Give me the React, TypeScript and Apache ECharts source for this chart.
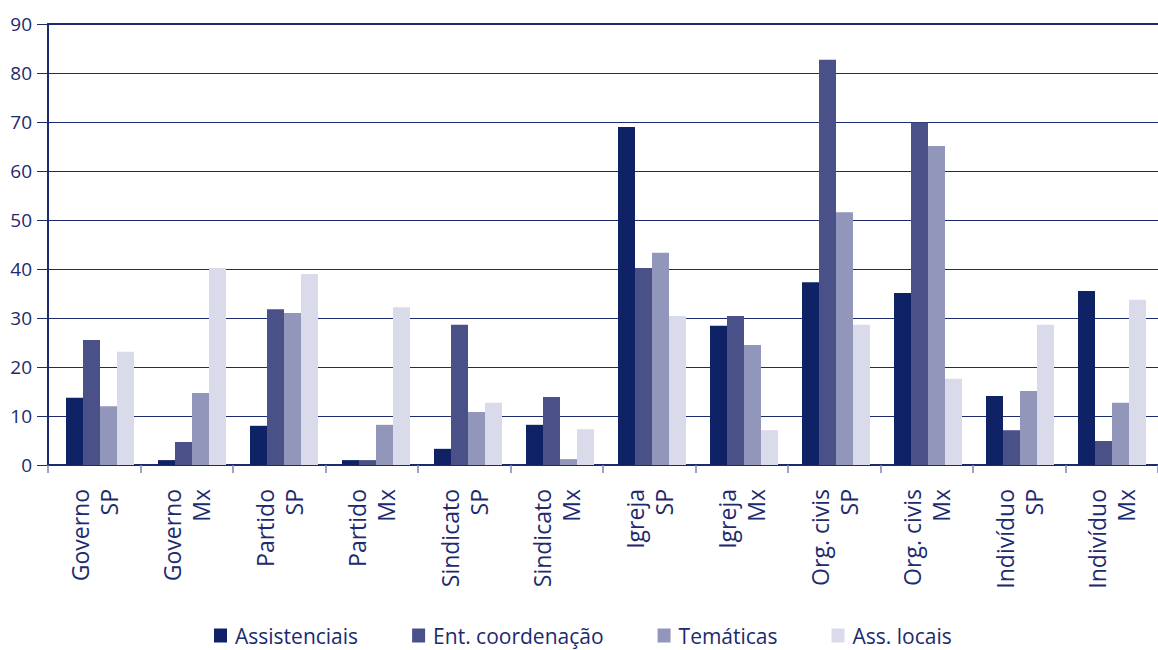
import React, { useEffect, useRef } from "react";
import * as echarts from "echarts";

const categories = [
  "Governo\nSP", "Governo\nMx", "Partido\nSP", "Partido\nMx",
  "Sindicato\nSP", "Sindicato\nMx", "Igreja\nSP", "Igreja\nMx",
  "Org. civis\nSP", "Org. civis\nMx", "Indivíduo\nSP", "Indivíduo\nMx",
];
const seriesNames = ["Assistenciais", "Ent. coordenação", "Temáticas", "Ass. locais"];
const assistenciais = [13.7, 1.0, 8.0, 1.0, 3.3, 8.2, 69.0, 28.4, 37.3, 35.1, 14.1, 35.5];
const entCoordenacao = [25.5, 4.7, 31.8, 1.0, 28.6, 13.9, 40.2, 30.4, 82.7, 69.9, 7.1, 4.9];
const tematicas = [12.0, 14.7, 31.0, 8.2, 10.8, 1.2, 43.3, 24.5, 51.6, 65.1, 15.1, 12.7];
const assLocais = [23.1, 40.2, 39.0, 32.2, 12.7, 7.3, 30.4, 7.1, 28.6, 17.6, 28.6, 33.7];
const colors = ["#0f2266", "#4a5189", "#9396bb", "#d9dbea"];
const yTicks = { min: 0, max: 90, interval: 10 };

const navy = "#1c2a6e";
const font = "'Open Sans', sans-serif";

export default function App() {
  const ref = useRef<HTMLDivElement>(null);
  useEffect(() => {
    if (!ref.current) return;
    const chart = echarts.init(ref.current, null, { renderer: "svg" });
    const values = [assistenciais, entCoordenacao, tematicas, assLocais];
    chart.setOption({
      animation: false,
      textStyle: { fontFamily: font },
      grid: [
        { left: 48, top: 24, width: 1118, height: 441, containLabel: false },
        { left: 54, top: 24, width: 1105, height: 441, containLabel: false },
      ],
      legend: {
        bottom: -1,
        left: 209,
        itemWidth: 13,
        itemHeight: 14,
        itemGap: 54,
        icon: "rect",
        textStyle: { fontSize: 21, color: navy, fontFamily: font, padding: [0, 0, 0, 3] },
        data: seriesNames,
      },
      xAxis: [
        {
          type: "category",
          gridIndex: 0,
          data: categories,
          axisLine: { show: true, lineStyle: { color: navy, width: 2 } },
          axisTick: { show: true, length: 8, lineStyle: { color: "#7c84b2", width: 1.5 } },
          axisLabel: {
            interval: 0,
            rotate: 90,
            fontSize: 23,
            lineHeight: 29,
            color: navy,
            margin: 24,
            fontFamily: font,
          },
        },
        {
          type: "category",
          gridIndex: 0,
          position: "top",
          data: categories,
          axisLine: { show: true, lineStyle: { color: navy, width: 2 } },
          axisTick: { show: false },
          axisLabel: { show: false },
        },
        {
          type: "category",
          gridIndex: 1,
          data: categories,
          show: false,
        },
      ],
      yAxis: [
        {
          type: "value",
          gridIndex: 0,
          min: yTicks.min,
          max: yTicks.max,
          interval: yTicks.interval,
          axisLine: { show: true, lineStyle: { color: navy, width: 2 } },
          axisTick: { show: true, length: 11, lineStyle: { color: navy, width: 1 } },
          axisLabel: { fontSize: 19, color: navy, margin: 16, fontFamily: font },
          splitLine: { show: true, lineStyle: { color: navy, width: 1 } },
        },
        {
          type: "value",
          gridIndex: 1,
          min: yTicks.min,
          max: yTicks.max,
          interval: yTicks.interval,
          show: false,
          splitLine: { show: false },
        },
      ],
      series: seriesNames.map((name, i) => ({
        name,
        type: "bar",
        xAxisIndex: 2,
        yAxisIndex: 1,
        data: values[i],
        barWidth: 17,
        barGap: "0%",
        itemStyle: { color: colors[i] },
      })),
    });
    return () => chart.dispose();
  }, []);
  return (
    <div
      ref={ref}
      style={{ position: "fixed", left: 0, top: 0, width: 1158, height: 650, background: "#fff" }}
    />
  );
}
